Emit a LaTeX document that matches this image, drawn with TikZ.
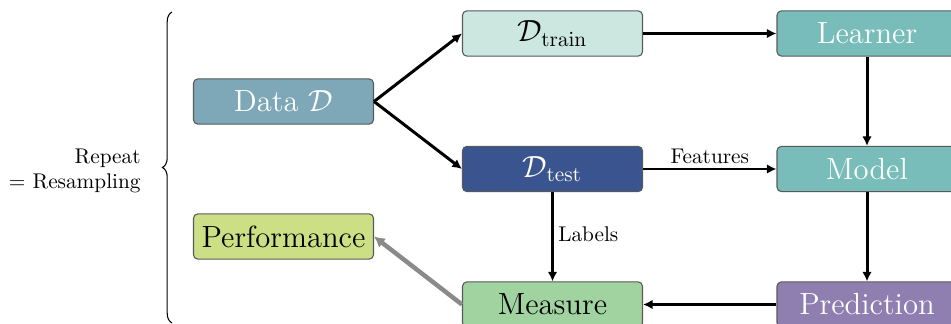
\documentclass[tikz,border=0pt]{standalone}
\usetikzlibrary{arrows.meta,decorations.pathreplacing}
\definecolor{cdata}{HTML}{7EA7B8}
\definecolor{ctrain}{HTML}{CBE7DF}
\definecolor{ctest}{HTML}{3A548F}
\definecolor{clearn}{HTML}{78BDB9}
\definecolor{cpred}{HTML}{8E7FB0}
\definecolor{cmeas}{HTML}{A0D3A0}
\definecolor{cperf}{HTML}{CCDF85}
\definecolor{cgrey}{HTML}{8A8A8A}
\begin{document}
\begin{tikzpicture}[x=0.47pt,y=-0.47pt,
  box/.style={draw=black!65, rounded corners=2pt, minimum width=84.6pt, minimum height=21.2pt, inner sep=0pt, font=\Large, line width=0.5pt},
  arr/.style={-{Latex[length=4.5pt,width=4.5pt]}, line width=1.4pt},
  grarr/.style={-{Latex[length=5pt,width=5.5pt]}, line width=2.1pt, draw=cgrey},
  lab/.style={font=\normalsize, inner sep=1pt}]
\useasboundingbox (0,0) rectangle (951,324);
\clip (0,0) rectangle (951,324);
\node[box, fill=cdata, text=white] (data) at (283.5,101.5) {Data $\mathcal{D}$};
\node[box, fill=cperf] (perf) at (283.5,236.5) {Performance};
\node[box, fill=ctrain] (train) at (552.5,33.5) {$\mathcal{D}_{\mathrm{train}}$};
\node[box, fill=ctest, text=white] (test) at (552.5,169) {$\mathcal{D}_{\mathrm{test}}$};
\node[box, fill=cmeas] (meas) at (552.5,304.5) {Measure};
\node[box, fill=clearn, text=white] (learn) at (867,33.5) {Learner};
\node[box, fill=clearn, text=white] (model) at (867,169) {Model};
\node[box, fill=cpred, text=white] (pred) at (867,304.5) {Prediction};
\node[lab, anchor=east, align=right, inner sep=0pt] (rep) at (141,171) {Repeat\\$=$ Resampling};
\coordinate (bb) at (172,323);
\coordinate (bt) at (172,12);
\draw[line width=0.5pt, decorate, decoration={brace, amplitude=4.5pt}] (bb) -- (bt);
\draw[arr] (data.east) -- (train.west);
\draw[arr] (data.east) -- (test.west);
\draw[arr] (train) -- (learn);
\draw[arr] (learn) -- (model);
\draw[arr] (test) -- node[lab, above, yshift=1pt] {Features} (model);
\draw[arr] (model) -- (pred);
\draw[arr] (pred) -- (meas);
\draw[arr] (test) -- node[lab, right, xshift=1pt, yshift=1pt] {Labels} (meas);
\draw[grarr] (meas.west) -- (perf.east);
\end{tikzpicture}
\end{document}
